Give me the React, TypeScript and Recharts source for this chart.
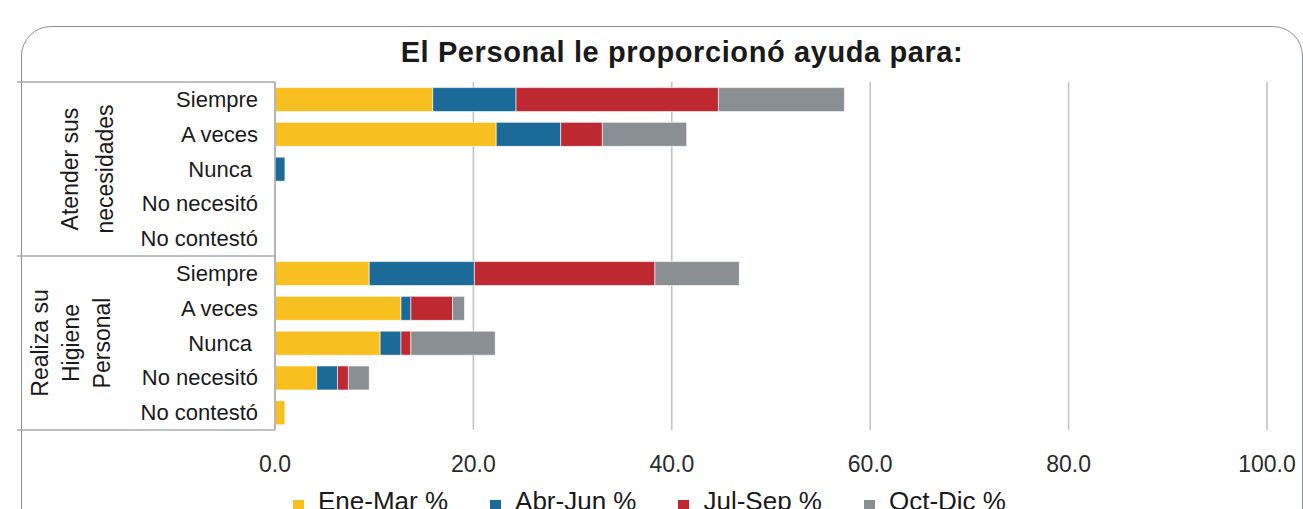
import React from "react"
import { BarChart, Bar, XAxis, YAxis, CartesianGrid } from "recharts"

const categories = [
  "Siempre", "A veces", "Nunca\u00a0", "No necesitó", "No contestó",
  "Siempre", "A veces", "Nunca\u00a0", "No necesitó", "No contestó",
]
const eneMar = [15.9, 22.3, 0, 0, 0, 9.5, 12.7, 10.6, 4.2, 1.0]
const abrJun = [8.4, 6.5, 1.0, 0, 0, 10.6, 1.0, 2.1, 2.1, 0]
const julSep = [20.4, 4.2, 0, 0, 0, 18.2, 4.2, 1.0, 1.1, 0]
const octDic = [12.7, 8.5, 0, 0, 0, 8.5, 1.2, 8.5, 2.1, 0]
const xTicks = [0, 20, 40, 60, 80, 100]

const groups = [
  { lines: ["Atender sus", "necesidades"], rows: 5 },
  { lines: ["Realiza su", "Higiene", "Personal"], rows: 5 },
]

const series = [
  { key: "eneMar", name: "Ene-Mar %", color: "#F7C020" },
  { key: "abrJun", name: "Abr-Jun %", color: "#1B6A98" },
  { key: "julSep", name: "Jul-Sep %", color: "#BE2830" },
  { key: "octDic", name: "Oct-Dic %", color: "#8A8F94" },
]

const data = categories.map((c, i) => ({
  id: `r${i}`,
  label: c,
  eneMar: eneMar[i],
  abrJun: abrJun[i],
  julSep: julSep[i],
  octDic: octDic[i],
}))

const W = 1303
const H = 509
const PLOT_TOP = 82
const PLOT_LEFT = 275
const PLOT_RIGHT = 1267
const PLOT_BOTTOM = 430
const X_AXIS_H = 50
const FONT = '"Liberation Sans", Arial, sans-serif'

const CategoryTick = (props: any) => {
  const { x, y, payload } = props
  const row = data.find((d) => d.id === payload.value)
  return (
    <text x={x} y={y} textAnchor="end" dominantBaseline="central" fontSize={22} fill="#1a1a1a" fontFamily={FONT}>
      {row ? row.label : ""}
    </text>
  )
}

function GroupLabels() {
  const rowH = (PLOT_BOTTOM - PLOT_TOP) / categories.length
  let start = 0
  const items: React.ReactNode[] = []
  const lineYs = [PLOT_TOP]
  groups.forEach((g, gi) => {
    const cy = PLOT_TOP + (start + g.rows / 2) * rowH
    const lh = g.lines.length === 2 ? 35 : 31
    const cx0 = g.lines.length === 2 ? 70 : 40
    g.lines.forEach((ln, li) => {
      const cx = cx0 + li * lh
      items.push(
        <text key={`${gi}-${li}`} x={cx} y={cy} textAnchor="middle" dominantBaseline="central"
          transform={`rotate(-90, ${cx}, ${cy})`} fontSize={23} fill="#1a1a1a" fontFamily={FONT}>
          {ln}
        </text>
      )
    })
    start += g.rows
    lineYs.push(PLOT_TOP + start * rowH)
  })
  return (
    <svg width={W} height={H} style={{ position: "absolute", left: 0, top: 0, pointerEvents: "none" }}>
      {lineYs.map((y, i) => (
        <g key={i}>
          <line x1={22} x2={PLOT_LEFT} y1={y} y2={y} stroke="#a8abae" strokeWidth={1.5} />
          <line x1={17} x2={22} y1={y} y2={y} stroke="#a8abae" strokeWidth={1.5} />
        </g>
      ))}
      {items}
    </svg>
  )
}

export default function App() {
  return (
    <div style={{ position: "absolute", left: 0, top: 0, width: W, height: H, overflow: "hidden", background: "#fff", fontFamily: FONT }}>
      <div style={{
        position: "absolute", left: 21, top: 26, width: 1282, height: 540,
        border: "1.5px solid #8f9498", borderRadius: 30, boxSizing: "border-box",
      }} />
      <div style={{
        position: "absolute", left: 0, top: 36, width: 1364, textAlign: "center",
        fontSize: 29, fontWeight: "bold", color: "#1a1a1a", letterSpacing: 0.6,
      }}>
        El Personal le proporcionó ayuda para:
      </div>
      <div style={{ position: "absolute", left: 0, top: 0 }}>
        <BarChart
          width={W}
          height={H}
          data={data}
          layout="vertical"
          barCategoryGap="16%"
          margin={{ top: PLOT_TOP, right: W - PLOT_RIGHT, left: 20, bottom: H - PLOT_BOTTOM - X_AXIS_H }}
        >
          <CartesianGrid horizontal={false} stroke="#bfc1c3" strokeWidth={1.5} />
          <XAxis
            type="number"
            domain={[0, 100]}
            ticks={xTicks}
            tickFormatter={(v: number) => v.toFixed(1)}
            axisLine={false}
            tickLine={false}
            tickMargin={20}
            height={X_AXIS_H}
            tick={{ fontSize: 23, fill: "#2a2a2a", fontFamily: FONT }}
          />
          <YAxis
            type="category"
            dataKey="id"
            width={PLOT_LEFT - 20}
            axisLine={{ stroke: "#a8abae", strokeWidth: 1.5 }}
            tickLine={false}
            tickMargin={11}
            tick={<CategoryTick />}
            interval={0}
          />
          {series.map((s) => (
            <Bar key={s.key} dataKey={s.key} name={s.name} stackId="a" fill={s.color}
              stroke="#ffffff" strokeWidth={0.6} isAnimationActive={false} />
          ))}
        </BarChart>
      </div>
      <GroupLabels />
      <div style={{ position: "absolute", left: 293, top: 486, display: "flex", alignItems: "center", whiteSpace: "nowrap" }}>
        {series.map((s) => (
          <div key={s.key} style={{ display: "flex", alignItems: "center", marginRight: 42 }}>
            <span style={{ display: "inline-block", width: 11, height: 12, background: s.color, marginRight: 14, marginTop: 8 }} />
            <span style={{ fontSize: 26, color: "#1a1a1a" }}>{s.name}</span>
          </div>
        ))}
      </div>
    </div>
  )
}
